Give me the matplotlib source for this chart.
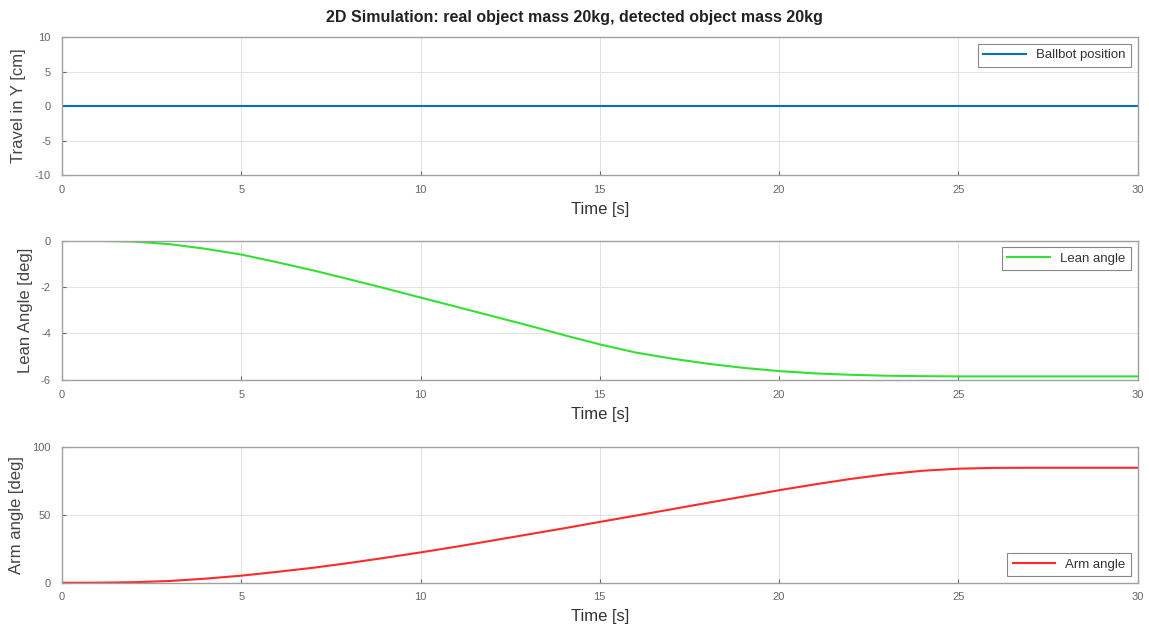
import numpy as np
import matplotlib.pyplot as plt

plt.rcParams['font.family'] = ['Liberation Sans', 'DejaVu Sans']
plt.rcParams['axes.unicode_minus'] = False

time = [0, 1, 2, 3, 4, 5, 6, 7, 8, 9, 10, 11, 12, 13, 14, 15, 16, 17, 18, 19,
        20, 21, 22, 23, 24, 25, 26, 27, 28, 29, 30]
ballbot_pos = [0] * 31
lean_angle = [0, -0.01, -0.04, -0.15, -0.35, -0.6, -0.93, -1.28, -1.66, -2.05,
              -2.45, -2.85, -3.25, -3.65, -4.07, -4.47, -4.82, -5.08, -5.3, -5.48,
              -5.62, -5.72, -5.78, -5.82, -5.84, -5.85, -5.85, -5.85, -5.85, -5.85, -5.85]
arm_angle = [0, 0.05, 0.4, 1.3, 3.0, 5.2, 8.0, 11.0, 14.5, 18.3,
             22.3, 26.5, 31.0, 35.5, 40.0, 44.7, 49.3, 54.0, 58.7, 63.3,
             68.0, 72.3, 76.3, 79.7, 82.3, 83.8, 84.4, 84.5, 84.5, 84.5, 84.5]

fig = plt.figure(figsize=(11.49, 6.30), dpi=100)
boxes = [[0.054, 0.722, 0.936, 0.219],
         [0.054, 0.397, 0.936, 0.221],
         [0.054, 0.075, 0.936, 0.216]]
series = [ballbot_pos, lean_angle, arm_angle]
colors = ['#0072BD', '#33e033', '#ff2a2a']
labels = ['Ballbot position', 'Lean angle', 'Arm angle']
ylabels = ['Travel in Y [cm]', 'Lean Angle [deg]', 'Arm angle [deg]']
ylims = [(-10, 10), (-6, 0), (0, 100)]
yticks = [[-10, -5, 0, 5, 10], [-6, -4, -2, 0], [0, 50, 100]]
locs = ['upper right', 'upper right', 'lower right']

for box, y, c, lab, yl, lim, yt, loc in zip(boxes, series, colors, labels, ylabels, ylims, yticks, locs):
    ax = fig.add_axes(box)
    ax.plot(time, y, color=c, lw=1.5, label=lab)
    ax.set_xlim(0, 30)
    ax.set_ylim(*lim)
    ax.set_xticks(range(0, 31, 5))
    ax.set_yticks(yt)
    ax.grid(True, color='#e2e2e2', lw=0.7)
    ax.tick_params(direction='in', length=3, labelsize=8, colors='#666666', labelcolor='#666666')
    ax.tick_params(axis='x', pad=7)
    ax.tick_params(axis='y', pad=8)
    for s in ax.spines.values():
        s.set_color('#a0a0a0')
        s.set_linewidth(1.0)
    ax.set_xlabel('Time [s]', fontsize=12, color='#333333', labelpad=5)
    ax.set_ylabel(yl, fontsize=12, color='#444444', labelpad=6)
    leg = ax.legend(loc=loc, fontsize=9.5, fancybox=False, framealpha=1, edgecolor='#888888',
                    handlelength=3.2, borderaxespad=0.5)
    leg.get_frame().set_linewidth(0.8)
    for t in leg.get_texts():
        t.set_color('#333333')

fig.text(0.5, 0.972, '2D Simulation: real object mass 20kg, detected object mass 20kg',
         ha='center', va='center', fontsize=11.5, fontweight='bold', color='#222222')

fig.savefig('out.png', dpi=100)
